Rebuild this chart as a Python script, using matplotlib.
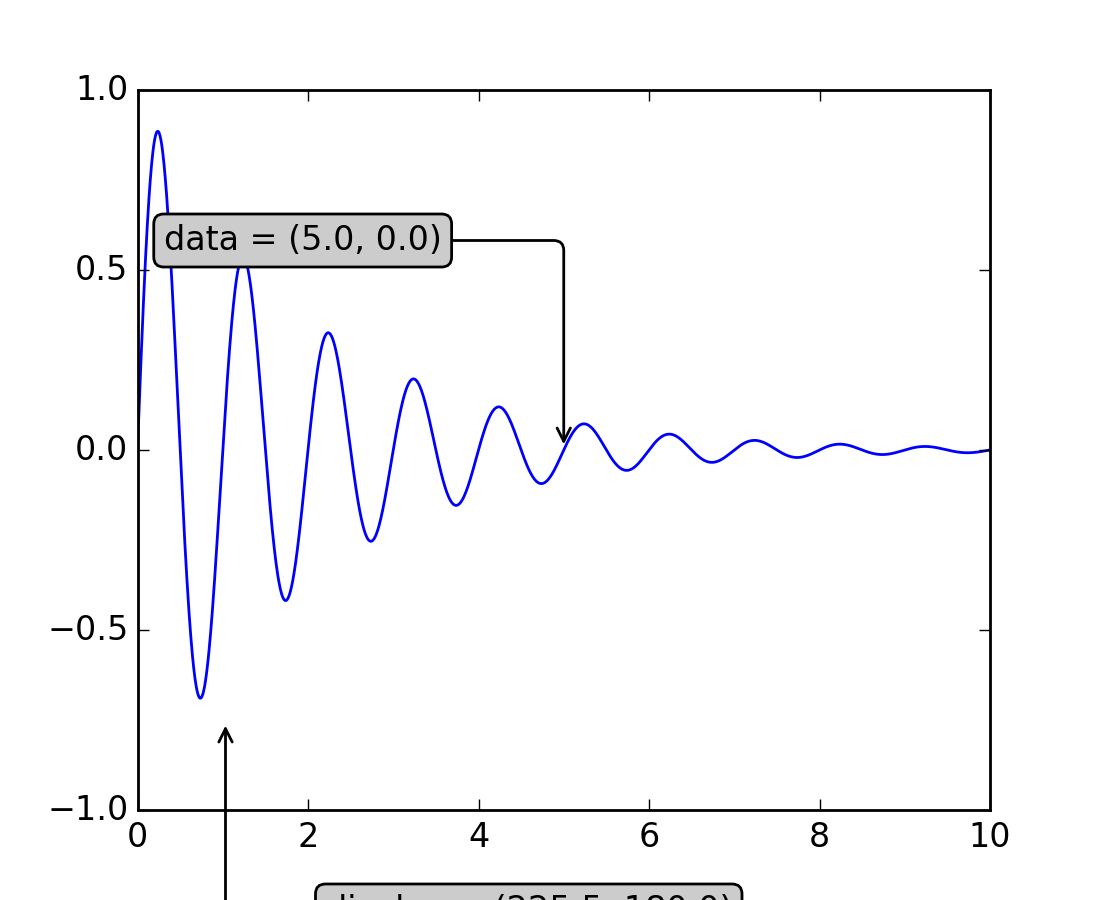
import numpy as np
import matplotlib
matplotlib.use("Agg")
import matplotlib.pyplot as plt

plt.style.use('classic')

# Curve parameters: damped sine, period 1, decay e^(-x/2)
x_start, x_stop, x_step = 0.0, 10.0, 0.005
decay = 2.0
period = 1.0

# Annotated point (data coords) and its display position (figure pixels)
data_point = [5.0, 0.0]
display_point = [225.5, 180.0]

x = np.arange(x_start, x_stop, x_step)
y = np.exp(-x / decay) * np.sin(2 * np.pi * x / period)

fig, ax = plt.subplots(figsize=(5.5, 4.5), dpi=80)
ax.plot(x, y)
ax.set_xlim(0, 10)
ax.set_ylim(-1, 1)
ax.tick_params(axis='y', pad=3.3)

bbox = dict(boxstyle="round", fc="0.8")
arrowprops = dict(arrowstyle="->", shrinkA=0,
                  connectionstyle="angle,angleA=0,angleB=90,rad=10")
offset = 72
ax.annotate('data = (%.1f, %.1f)' % (data_point[0], data_point[1]),
            (data_point[0], data_point[1]), xytext=(-2 * offset, offset),
            textcoords='offset points', bbox=bbox, arrowprops=arrowprops)
ax.annotate('display = (%.1f, %.1f)' % (display_point[0], display_point[1]),
            (display_point[0], display_point[1]), xytext=(0.5 * offset, -offset),
            xycoords='figure pixels', textcoords='offset points',
            bbox=bbox, arrowprops=arrowprops)

fig.savefig('out.png', dpi=200)
